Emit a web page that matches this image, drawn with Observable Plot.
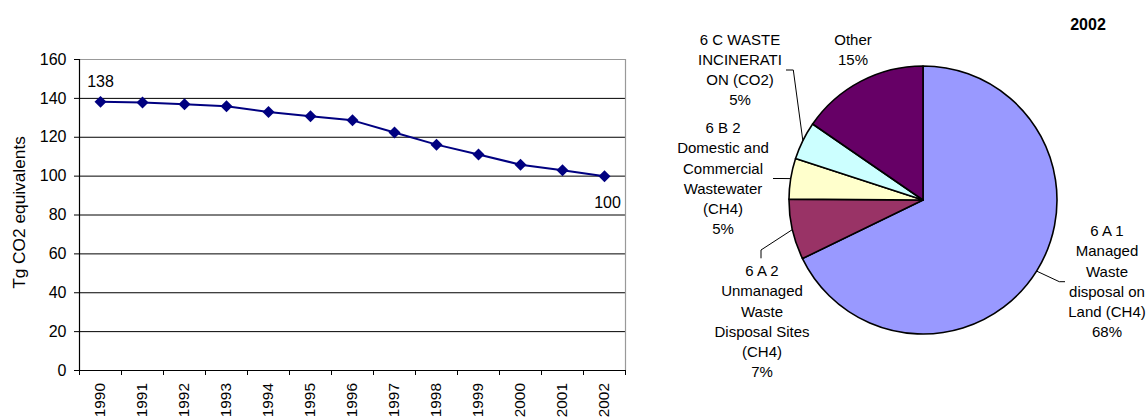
<!DOCTYPE html>
<html><head><meta charset="utf-8">
<script src="https://cdn.jsdelivr.net/npm/d3@7"></script>
<script src="https://cdn.jsdelivr.net/npm/@observablehq/plot@0.6"></script>
<style>
body{margin:0;background:#fff;}
#wrap{position:relative;width:1148px;height:418px;overflow:hidden;}
</style></head><body><div id="wrap"></div>
<script>
// ---- data ----
const years = [1990,1991,1992,1993,1994,1995,1996,1997,1998,1999,2000,2001,2002];
const emissions = [138.2,137.9,137.0,136.0,133.0,130.8,128.7,122.4,116.2,111.1,105.9,103.0,99.9];
const yTicks = [0,20,40,60,80,100,120,140,160];
const yTitle = "Tg CO2 equivalents";

const pieCategories = [
  "6 A 1\nManaged\nWaste\ndisposal on\nLand (CH4)",
  "6 A 2\nUnmanaged\nWaste\nDisposal Sites\n(CH4)",
  "6 B 2\nDomestic and\nCommercial\nWastewater\n(CH4)",
  "6 C WASTE\nINCINERATI\nON (CO2)",
  "Other"
];
const pieShares = [67.8, 7.3, 4.9, 4.6, 15.4];
const pieColors = ["#9999FF", "#993366", "#FFFFCC", "#CCFFFF", "#660066"];
const pieTitle = "2002";

// ---- layout (not data) ----
const FONT = "'Liberation Sans', Arial, sans-serif";
const W = 1148, H = 418;
const pieCx = 923, pieCy = 200, pieR = 134;
const lineGap = 20.3;
const labelLayout = [
  {x: 1107, y: 230.7, leader: [[1059.3, 281.7], [1065, 281.7]]},
  {x: 762, y: 270.7, leader: [[761, 250], [761, 258.3]]},
  {x: 723, y: 127.7, leader: [[782, 178.5], [773, 178.5]]},
  {x: 740, y: 39.3, leader: [[793.3, 70], [786, 70]]},
  {x: 853, y: 39.3, leader: null}
];

const data = years.map((y, i) => ({year: y, value: emissions[i]}));
const bounds = d3.range(years.length + 1).map(i => years[0] - 0.5 + i);
const xMin = years[0] - 0.5, xMax = years[years.length - 1] + 0.5;

const pieData = pieCategories.map((c, i) => ({category: c, share: pieShares[i], color: pieColors[i]}));

function pieMark() {
  const g = d3.create("svg:g").attr("font-family", FONT).attr("fill", "#000");
  const arcs = d3.pie().sort(null).value(d => d.share)(pieData);
  const arc = d3.arc().innerRadius(0).outerRadius(pieR);
  const pg = g.append("g").attr("transform", `translate(${pieCx},${pieCy})`);
  pg.selectAll("path").data(arcs).join("path")
    .attr("d", arc)
    .attr("fill", d => d.data.color)
    .attr("stroke", "#000")
    .attr("stroke-width", 1.6)
    .attr("stroke-linejoin", "round");
  // leader lines
  arcs.forEach((a, i) => {
    const L = labelLayout[i];
    if (!L.leader) return;
    const mid = (a.startAngle + a.endAngle) / 2;
    const p0 = [pieCx + pieR * Math.sin(mid), pieCy - pieR * Math.cos(mid)];
    const pts = [p0, ...L.leader];
    g.append("path")
      .attr("d", d3.line()(pts))
      .attr("fill", "none")
      .attr("stroke", "#000")
      .attr("stroke-width", 1);
  });
  // labels
  arcs.forEach((a, i) => {
    const L = labelLayout[i];
    const lines = a.data.category.split("\n").concat([Math.round(a.data.share) + "%"]);
    const t = g.append("text")
      .attr("text-anchor", "middle")
      .attr("font-size", 15);
    lines.forEach((ln, j) => {
      t.append("tspan").attr("x", L.x).attr("y", L.y + j * lineGap)
        .attr("dy", "0.35em").text(ln);
    });
  });
  g.append("text").attr("x", 1088).attr("y", 24).attr("dy", "0.35em")
    .attr("text-anchor", "middle").attr("font-size", 16).attr("font-weight", "bold")
    .text(pieTitle);
  return g.node();
}

const chart = Plot.plot({
  width: W, height: H,
  marginLeft: 79, marginRight: W - 625, marginTop: 59, marginBottom: 48,
  style: {fontFamily: FONT, fontSize: "16px", color: "#000", background: "#fff", overflow: "visible"},
  x: {domain: [xMin, xMax], axis: null},
  y: {domain: [0, 160], axis: null},
  marks: [
    Plot.ruleY(yTicks.filter(t => t > 0 && t < 160), {stroke: "#000", strokeWidth: 1}),
    Plot.ruleY([160], {stroke: "#999", strokeWidth: 1.2}),
    Plot.ruleX([xMax], {stroke: "#999", strokeWidth: 1.2}),
    Plot.ruleY([0], {stroke: "#000", strokeWidth: 1.2}),
    Plot.ruleX([xMin], {stroke: "#000", strokeWidth: 1.2}),
    Plot.axisY({ticks: yTicks, tickSize: 5, tickPadding: 8, label: null, fontSize: 16, stroke: "#000"}),
    Plot.axisX({ticks: bounds, tickSize: 5, tickFormat: () => "", label: null, stroke: "#000"}),
    Plot.text(years, {x: d => d, y: () => 0, text: d => String(d), rotate: -90, textAnchor: "end", dy: 12.5, fontSize: 15.4}),
    Plot.text([yTitle], {frameAnchor: "left", textAnchor: "middle", text: d => d, dx: -60.5, dy: -2.5, rotate: -90, fontSize: 17.3}),
    Plot.line(data, {x: "year", y: "value", stroke: "#000080", strokeWidth: 2}),
    Plot.dot(data, {x: "year", y: "value", symbol: "diamond2", r: 5.4, fill: "#000080", stroke: null}),
    Plot.text([data[0]], {x: "year", y: "value", text: d => Math.round(d.value), dy: -20, fontSize: 16}),
    Plot.text([data[data.length - 1]], {x: "year", y: "value", text: d => Math.round(d.value), dy: 27, dx: 3, fontSize: 16}),
    pieMark
  ]
});
document.getElementById("wrap").appendChild(chart);
</script>
</body></html>
